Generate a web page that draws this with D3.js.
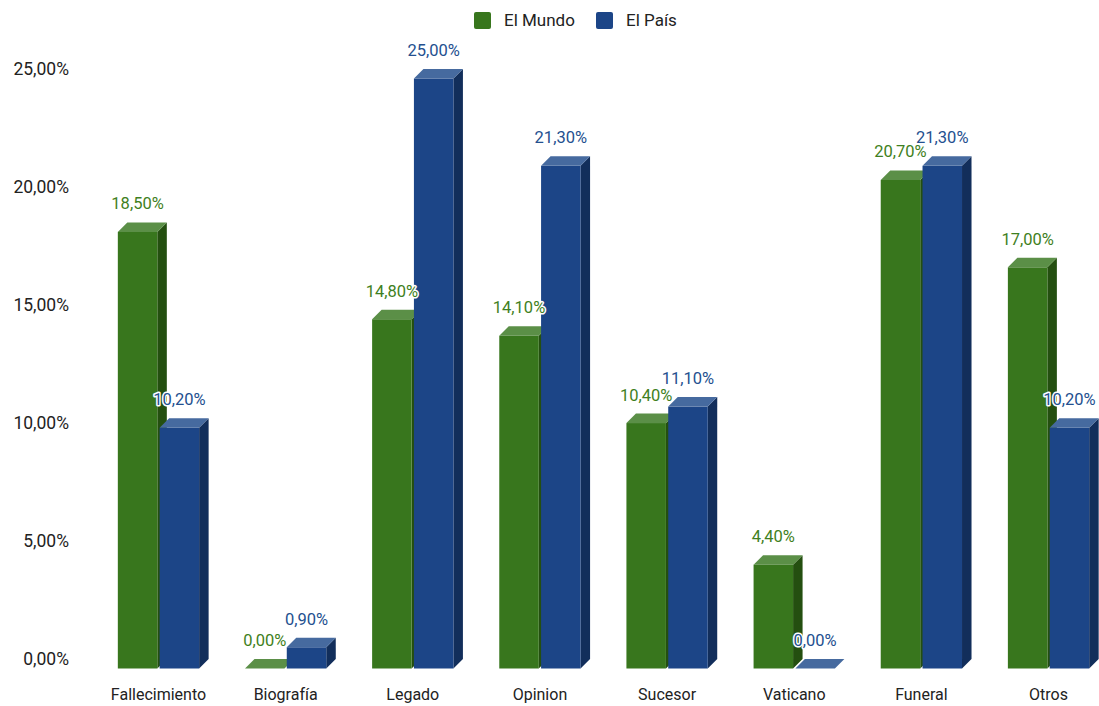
<!DOCTYPE html>
<html>
<head>
<meta charset="utf-8">
<script src="https://cdn.jsdelivr.net/npm/d3@7"></script>
<style>
  html, body { margin: 0; padding: 0; background: #fff; }
  svg { display: block; font-family: Roboto, "Noto Sans", sans-serif; }
</style>
</head>
<body>
<svg id="chart" width="1099" height="706"></svg>
<script>
// ---- data ----
const categories = ["Fallecimiento", "Biografía", "Legado", "Opinion", "Sucesor", "Vaticano", "Funeral", "Otros"];
const seriesNames = ["El Mundo", "El País"];
const elMundo = [18.5, 0.0, 14.8, 14.1, 10.4, 4.4, 20.7, 17.0];
const elPais = [10.2, 0.9, 25.0, 21.3, 11.1, 0.0, 21.3, 10.2];
const yTicks = [0, 5, 10, 15, 20, 25];

// ---- styles ----
const colors = {
  "El Mundo": { front: "#38761d", top: "#5b8f47", side: "#244f10", text: "#3f7f22" },
  "El País": { front: "#1c4587", top: "#466a9f", side: "#122e5b", text: "#24508f" }
};
const depthX = 9.5, depthY = 9.5;

const svg = d3.select("#chart");
const locale = d3.formatLocale({ decimal: ",", thousands: ".", grouping: [3], currency: ["", "€"] });
const fmt = v => locale.format(".2f")(v) + "%";

const seriesValues = { "El Mundo": elMundo, "El País": elPais };

// scales
const x0 = d3.scaleBand().domain(categories).range([94.9, 1112.1]).padding(0);
const groupHalf = 40.65;
const y = d3.scaleLinear().domain([0, 25]).range([659, 69]);

// y axis (labels only)
const yAxis = d3.axisLeft(y).tickValues(yTicks).tickFormat(fmt).tickSize(0).tickPadding(0);
const yg = svg.append("g").attr("transform", "translate(69,0)").call(yAxis);
yg.select(".domain").remove();
yg.selectAll("text").attr("font-size", 17.5).attr("fill", "#222").attr("font-family", "Roboto, sans-serif");

// x axis labels
const xAxis = d3.axisBottom(x0).tickSize(0).tickPadding(0);
const xg = svg.append("g").attr("transform", "translate(0,689)").call(xAxis);
xg.select(".domain").remove();
xg.selectAll(".tick").attr("transform", d => `translate(${x0(d) + x0.bandwidth() / 2},0)`);
xg.selectAll("text").attr("font-size", 16).attr("fill", "#222").attr("font-family", "Roboto, sans-serif");

// bars
const gBars = svg.append("g");
categories.forEach((cat, i) => {
  const c = x0(cat) + x0.bandwidth() / 2;
  const x1 = d3.scaleBand().domain(seriesNames).range([c - groupHalf, c + groupHalf]).paddingInner(0.055);
  const w = x1.bandwidth();
  seriesNames.forEach(s => {
    const v = seriesValues[s][i];
    const col = colors[s];
    const xl = x1(s), xr = xl + w;
    const yb = y(v), y0 = y(0);
    const fTop = yb + depthY, fBot = y0 + depthY;
    const g = gBars.append("g");
    if (v > 0) {
      g.append("path")
        .attr("d", `M${xr},${fTop} L${xr + depthX},${yb} L${xr + depthX},${y0} L${xr},${fBot} Z`)
        .attr("fill", col.side);
      g.append("rect").attr("x", xl).attr("y", fTop).attr("width", w).attr("height", fBot - fTop)
        .attr("fill", col.front);
    }
    g.append("path")
      .attr("d", `M${xl},${fTop} L${xl + depthX},${yb} L${xr + depthX},${yb} L${xr},${fTop} Z`)
      .attr("fill", col.top);
  });
});

// data labels (drawn on top)
const gLabels = svg.append("g");
categories.forEach((cat, i) => {
  const c = x0(cat) + x0.bandwidth() / 2;
  const x1 = d3.scaleBand().domain(seriesNames).range([c - groupHalf, c + groupHalf]).paddingInner(0.055);
  const w = x1.bandwidth();
  seriesNames.forEach(s => {
    const v = seriesValues[s][i];
    gLabels.append("text")
      .attr("x", x1(s) + w / 2)
      .attr("y", y(v) - 13)
      .attr("text-anchor", "middle")
      .attr("font-size", 16.5)
      .attr("font-family", "Roboto, sans-serif")
      .attr("fill", colors[s].text)
      .attr("stroke", "#fff")
      .attr("stroke-width", 3)
      .attr("stroke-linejoin", "round")
      .attr("paint-order", "stroke")
      .text(fmt(v));
  });
});

// legend
const legend = svg.append("g");
const legendItems = [{ name: "El Mundo", x: 474 }, { name: "El País", x: 596 }];
legendItems.forEach(it => {
  legend.append("rect").attr("x", it.x).attr("y", 12).attr("width", 17).attr("height", 17)
    .attr("rx", 2).attr("fill", colors[it.name].front);
  legend.append("text").attr("x", it.x + 30).attr("y", 26)
    .attr("font-size", 17).attr("fill", "#222")
    .attr("font-family", "Roboto, sans-serif")
    .text(it.name);
});
</script>
</body>
</html>
